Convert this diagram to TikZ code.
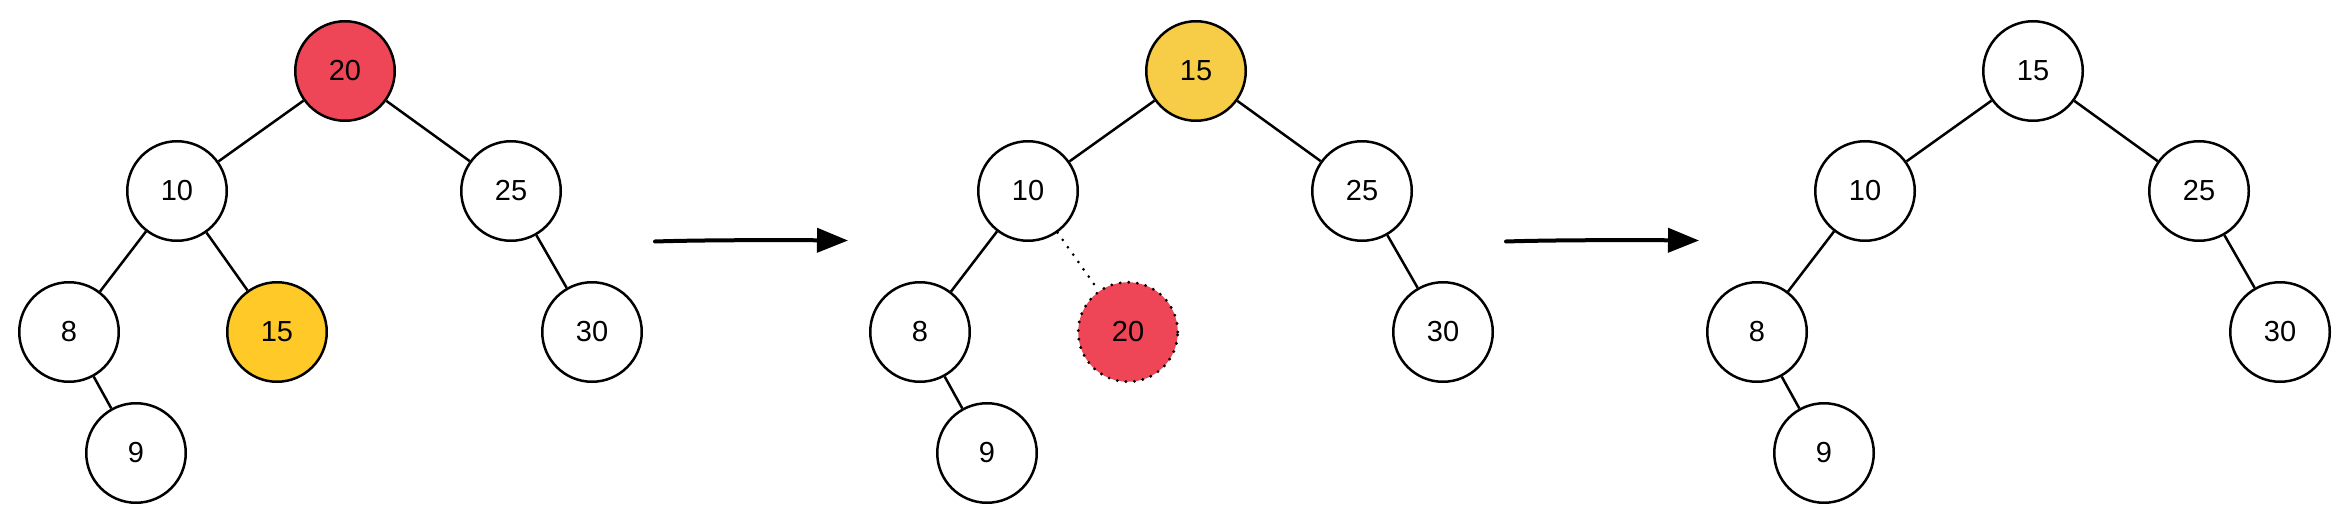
\documentclass[tikz,border=0pt]{standalone}
\usepackage{fontspec}
\setmainfont{Liberation Sans}
\usetikzlibrary{arrows.meta}
\definecolor{nodered}{HTML}{EE4657}
\definecolor{amberA}{HTML}{FFCA28}
\definecolor{amberB}{HTML}{F7CD47}
\begin{document}
\begin{tikzpicture}[x=1pt,y=-1pt,
  tnode/.style={circle, draw=black, line width=2.5pt, minimum size=99.5pt, inner sep=0pt, fill=white, font=\fontsize{29pt}{34pt}\selectfont},
  rednode/.style={tnode, fill=nodered},
  ambernodeA/.style={tnode, fill=amberA},
  ambernodeB/.style={tnode, fill=amberB},
  ghostnode/.style={tnode, fill=nodered, line width=3.2pt, dash pattern=on 0pt off 8.6pt, line cap=round},
  tedge/.style={line width=2.5pt},
  ghostedge/.style={line width=3pt, dash pattern=on 0pt off 9pt, line cap=round},
  steparrow/.style={line width=4pt, line cap=round, -{Triangle[length=31pt,width=24pt]}}
]
\useasboundingbox (0,0) rectangle (2350,524);

% ---------- tree 1 ----------
\node[rednode] (a20) at (345,71) {20};
\node[tnode] (a10) at (177,191) {10};
\node[tnode] (a25) at (511,191) {25};
\node[tnode] (a8) at (69,332) {8};
\node[ambernodeA] (a15) at (277,332) {15};
\node[tnode] (a30) at (592,332) {30};
\node[tnode] (a9) at (136,453) {9};
\draw[tedge] (a20) -- (a10);
\draw[tedge] (a20) -- (a25);
\draw[tedge] (a10) -- (a8);
\draw[tedge] (a10) -- (a15);
\draw[tedge] (a25) -- (a30);
\draw[tedge] (a8) -- (a9);

% ---------- tree 2 ----------
\begin{scope}[xshift=851pt]
\node[ambernodeB] (b15) at (345,71) {15};
\node[tnode] (b10) at (177,191) {10};
\node[tnode] (b25) at (511,191) {25};
\node[tnode] (b8) at (69,332) {8};
\node[ghostnode] (b20) at (277,332) {20};
\node[tnode] (b30) at (592,332) {30};
\node[tnode] (b9) at (136,453) {9};
\draw[tedge] (b15) -- (b10);
\draw[tedge] (b15) -- (b25);
\draw[tedge] (b10) -- (b8);
\draw[ghostedge] (b10) -- (b20);
\draw[tedge] (b25) -- (b30);
\draw[tedge] (b8) -- (b9);
\end{scope}

% ---------- tree 3 ----------
\begin{scope}[xshift=1688pt]
\node[tnode] (c15) at (345,71) {15};
\node[tnode] (c10) at (177,191) {10};
\node[tnode] (c25) at (511,191) {25};
\node[tnode] (c8) at (69,332) {8};
\node[tnode] (c30) at (592,332) {30};
\node[tnode] (c9) at (136,453) {9};
\draw[tedge] (c15) -- (c10);
\draw[tedge] (c15) -- (c25);
\draw[tedge] (c10) -- (c8);
\draw[tedge] (c25) -- (c30);
\draw[tedge] (c8) -- (c9);
\end{scope}

% ---------- arrows ----------
\coordinate (p1s) at (655,241.5);
\coordinate (p1e) at (848,240.5);
\coordinate (p2s) at (1506,241.5);
\coordinate (p2e) at (1699,240.5);
\draw[steparrow] (p1s) .. controls (700,240) and (780,240) .. (p1e);
\draw[steparrow] (p2s) .. controls (1551,240) and (1631,240) .. (p2e);
\end{tikzpicture}
\end{document}
